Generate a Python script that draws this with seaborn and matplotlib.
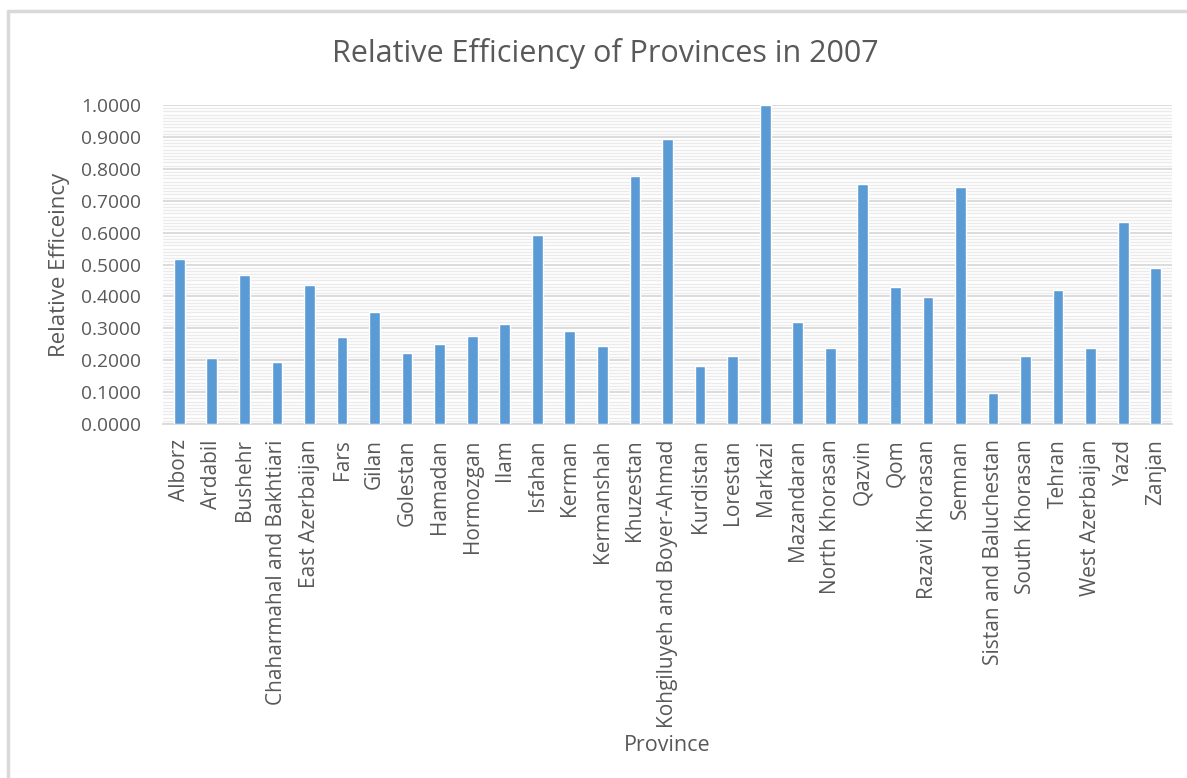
import matplotlib
matplotlib.use("Agg")
import matplotlib.pyplot as plt
import seaborn as sns
import pandas as pd
from matplotlib.ticker import MultipleLocator, FormatStrFormatter

provinces = ["Alborz", "Ardabil", "Bushehr", "Chaharmahal and Bakhtiari", "East Azerbaijan",
             "Fars", "Gilan", "Golestan", "Hamadan", "Hormozgan", "Ilam", "Isfahan", "Kerman",
             "Kermanshah", "Khuzestan", "Kohgiluyeh and Boyer-Ahmad", "Kurdistan", "Lorestan",
             "Markazi", "Mazandaran", "North Khorasan", "Qazvin", "Qom", "Razavi Khorasan",
             "Semnan", "Sistan and Baluchestan", "South Khorasan", "Tehran", "West Azerbaijan",
             "Yazd", "Zanjan"]
efficiency = [0.517, 0.207, 0.468, 0.194, 0.437, 0.273, 0.352, 0.224, 0.252, 0.275, 0.313,
              0.593, 0.291, 0.245, 0.777, 0.892, 0.182, 0.212, 1.0, 0.320, 0.239, 0.751,
              0.430, 0.399, 0.744, 0.097, 0.213, 0.420, 0.239, 0.633, 0.488]

title = "Relative Efficiency of Provinces in 2007"
xlabel = "Province"
ylabel = "Relative Efficeincy"

sns.set_theme(style="white")
plt.rcParams["font.family"] = ["Open Sans", "DejaVu Sans"]

df = pd.DataFrame({"Province": provinces, "Efficiency": efficiency})

fig = plt.figure(figsize=(11.87, 7.78), dpi=100)
ax = fig.add_axes([0.1373, 0.455, 0.8501, 0.41])

sns.barplot(data=df, x="Province", y="Efficiency", color="#5b9bd5", width=0.33,
            saturation=1, ax=ax, zorder=3)

ax.set_ylim(0, 1.0)
ax.set_xlim(-0.5, len(provinces) - 0.5)
ax.yaxis.set_major_locator(MultipleLocator(0.1))
ax.yaxis.set_minor_locator(MultipleLocator(0.01))
ax.yaxis.set_major_formatter(FormatStrFormatter("%.4f"))
ax.grid(which="major", axis="y", color="#d9d9d9", linewidth=1.3, zorder=0)
ax.grid(which="minor", axis="y", color="#ebebeb", linewidth=1.0, zorder=0)
ax.set_axisbelow(True)
for s in ["top", "right", "left"]:
    ax.spines[s].set_visible(False)
ax.spines["bottom"].set_color("#d9d9d9")
ax.spines["bottom"].set_linewidth(1.3)

ax.tick_params(axis="both", which="both", length=0, colors="#595959")
ax.tick_params(axis="x", labelsize=15, pad=11)
ax.tick_params(axis="y", labelsize=13.8, pad=16)
plt.setp(ax.get_xticklabels(), rotation=90, color="#595959")
plt.setp(ax.get_yticklabels(), color="#595959")

ax.set_xlabel(xlabel, fontsize=15.5, color="#595959")
ax.xaxis.set_label_coords(0.5, -0.975, transform=ax.transAxes)
ax.set_ylabel(ylabel, fontsize=16, color="#595959")
ax.yaxis.set_label_coords(-0.092, 0.5, transform=ax.transAxes)

fig.text(0.51, 0.931, title, fontsize=22, color="#595959", ha="center", va="center")

# chart frame (top and left edges visible)
fig.add_artist(plt.Line2D([0.0067, 1.0], [0.986, 0.986], color="#d9d9d9", linewidth=2.5,
                          transform=fig.transFigure))
fig.add_artist(plt.Line2D([0.0067, 0.0067], [0.0, 0.986], color="#d9d9d9", linewidth=2.5,
                          transform=fig.transFigure))

fig.savefig("out.png", dpi=100)
